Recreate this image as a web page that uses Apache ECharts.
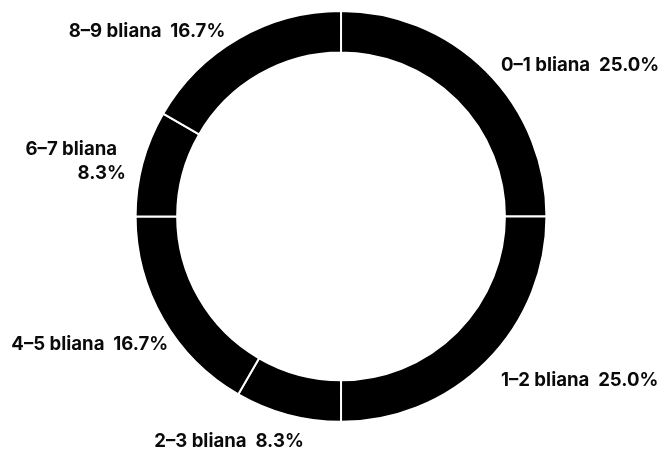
<!DOCTYPE html>
<html>
<head>
<meta charset="utf-8">
<script src="https://cdn.jsdelivr.net/npm/echarts@6/dist/echarts.min.js"></script>
<style>
  html, body { margin: 0; padding: 0; background: #fff; }
  #chart { width: 670px; height: 449px; }
</style>
</head>
<body>
<div id="chart"></div>
<script>
// Share of respondents by years of experience
const categories = ['0–1 bliana', '1–2 bliana', '2–3 bliana', '4–5 bliana', '6–7 bliana', '8–9 bliana'];
const counts = [3, 3, 1, 2, 1, 2];

// Small hand nudges for the lower labels (dx, dy in px)
const labelNudge = {
  '1–2 bliana': [0, 13],
  '2–3 bliana': [27, 19],
  '4–5 bliana': [21, 21]
};
// Labels that should stay on one line even when close to the edge
const singleLine = { '4–5 bliana': true };

const chart = echarts.init(document.getElementById('chart'), null, { renderer: 'canvas' });

chart.setOption({
  animation: false,
  series: [{
    type: 'pie',
    center: ['50.9%', '48.2%'],
    radius: ['73%', '91.5%'],
    startAngle: 90,
    clockwise: true,
    avoidLabelOverlap: true,
    itemStyle: { color: '#000', borderColor: '#fff', borderWidth: 2 },
    label: {
      show: true,
      position: 'outside',
      formatter: (p) => p.name + '  ' + p.percent.toFixed(1) + '%',
      color: '#0a0a0a',
      fontFamily: 'Inter',
      fontWeight: 700,
      fontSize: 18.6,
      lineHeight: 24,
      overflow: 'break'
    },
    labelLine: { show: false, length: 8, length2: 4 },
    labelLayout: (p) => {
      const name = categories[p.dataIndex];
      const n = labelNudge[name];
      return n ? { dx: n[0], dy: n[1] } : {};
    },
    emphasis: { disabled: true },
    data: categories.map((name, i) => {
      const item = { name, value: counts[i] };
      if (singleLine[name]) item.label = { width: 220 };
      return item;
    })
  }]
});
</script>
</body>
</html>
